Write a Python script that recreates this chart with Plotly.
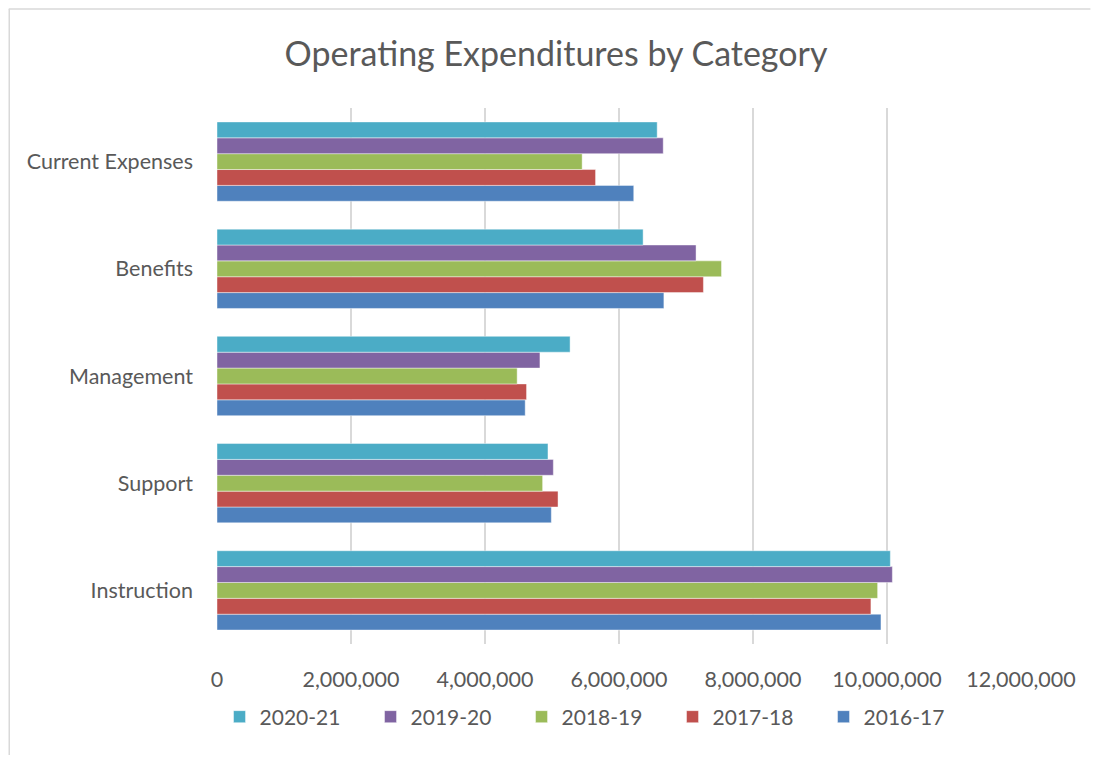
import plotly.graph_objects as go

categories = ["Instruction", "Support", "Management", "Benefits", "Current Expenses"]
years = ["2016-17", "2017-18", "2018-19", "2019-20", "2020-21"]
v_2016_17 = [9910000, 4990000, 4600000, 6670000, 6220000]
v_2017_18 = [9760000, 5090000, 4620000, 7260000, 5650000]
v_2018_19 = [9860000, 4860000, 4480000, 7530000, 5450000]
v_2019_20 = [10080000, 5020000, 4820000, 7150000, 6660000]
v_2020_21 = [10050000, 4940000, 5270000, 6360000, 6570000]
series = [v_2016_17, v_2017_18, v_2018_19, v_2019_20, v_2020_21]
colors = ["#4F81BD", "#C0504D", "#9BBB59", "#8064A2", "#4BACC6"]
x_ticks = [0, 2000000, 4000000, 6000000, 8000000, 10000000, 12000000]

FONT = "Lato, 'Open Sans', sans-serif"
TXT = "#595959"

# page body has an 8px default margin; figure sized to fit the window
W, H = 1083, 747
L, R, T, B = 208.5, 69.5, 100, 111
PW, PH = W - L - R, H - T - B

fig = go.Figure()
for name, vals, col in zip(years, series, colors):
    fig.add_trace(go.Bar(
        y=categories, x=vals, name=name, orientation="h",
        marker=dict(color=col, line=dict(color="rgba(255,255,255,0.55)", width=0.8)),
    ))

fig.update_layout(
    width=W, height=H,
    paper_bgcolor="white", plot_bgcolor="white",
    margin=dict(l=L, r=R, t=T, b=B),
    separators=".,",
    barmode="group", bargap=0.26, bargroupgap=0,
    title=dict(text="Operating Expenditures by Category", x=(556 - 8) / W, xref="container",
               xanchor="center", y=1 - (54 - 8) / H, yanchor="middle",
               font=dict(family=FONT, size=34, color=TXT)),
    font=dict(family=FONT, color=TXT, size=21.5),
    legend=dict(orientation="h", traceorder="reversed", x=(597 - 8 - L) / PW, xanchor="center",
                y=-(717 - 644) / PH, yanchor="middle", font=dict(size=21, color=TXT),
                entrywidth=106, entrywidthmode="pixels", itemwidth=30),
    xaxis=dict(range=[0, 12000000], tickvals=x_ticks, tickformat=",d",
               showgrid=True, gridcolor="#D9D9D9", gridwidth=2, zeroline=False,
               showline=False, ticks="", ticklabelstandoff=20,
               tickfont=dict(size=21.5, color=TXT), fixedrange=True),
    yaxis=dict(categoryorder="array", categoryarray=categories, showgrid=False,
               zeroline=False, showline=False, ticks="", ticklabelstandoff=23,
               tickfont=dict(size=21.5, color=TXT), fixedrange=True),
    shapes=[
        dict(type="line", xref="paper", yref="paper", x0=-L / PW, x1=(W - L) / PW,
             y0=(H - B - 1) / PH, y1=(H - B - 1) / PH,
             line=dict(color="#D9D9D9", width=1.5)),
        dict(type="line", xref="paper", yref="paper", x0=(-L + 0.5) / PW, x1=(-L + 0.5) / PW,
             y0=-B / PH, y1=(H - B - 1) / PH,
             line=dict(color="#D9D9D9", width=1.5)),
    ],
)

fig.write_html("out.html", config={"displayModeBar": False})
